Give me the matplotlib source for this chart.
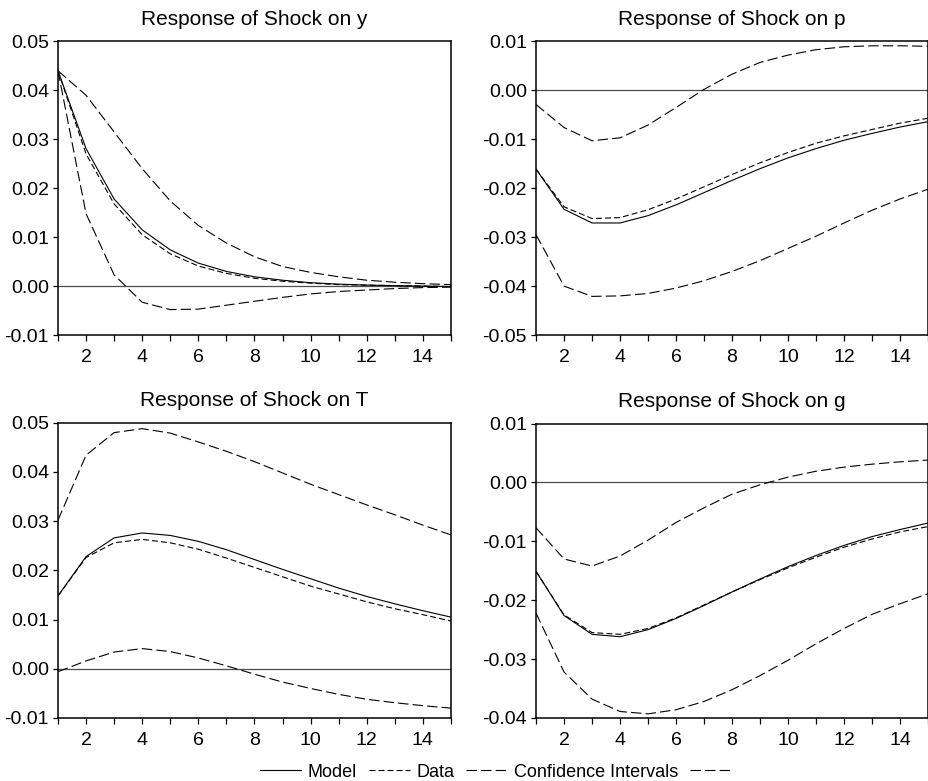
import matplotlib
matplotlib.use("Agg")
import matplotlib.pyplot as plt
from matplotlib.lines import Line2D

plt.rcParams['font.family'] = ['Liberation Sans', 'DejaVu Sans']
plt.rcParams['lines.scale_dashes'] = False

periods = list(range(1, 16))

# Response of Shock on y
y_model = [0.0440, 0.0281, 0.0178, 0.0115, 0.0074, 0.0047, 0.0030, 0.0019, 0.0012,
           0.0007, 0.0004, 0.0002, 0.0001, 0.0000, -0.0001]
y_data = [0.0440, 0.0270, 0.0168, 0.0105, 0.0066, 0.0041, 0.0026, 0.0016, 0.0010,
          0.0006, 0.0003, 0.0002, 0.0001, 0.0000, -0.0001]
y_upper = [0.0440, 0.0390, 0.0315, 0.0240, 0.0174, 0.0124, 0.0088, 0.0060, 0.0040,
           0.0028, 0.0019, 0.0012, 0.0008, 0.0005, 0.0003]
y_lower = [0.0440, 0.0148, 0.0023, -0.0033, -0.0048, -0.0047, -0.0039, -0.0031, -0.0023,
           -0.0016, -0.0011, -0.0008, -0.0005, -0.0003, -0.0002]

# Response of Shock on p
p_model = [-0.0161, -0.0243, -0.0271, -0.0271, -0.0256, -0.0234, -0.0209, -0.0184, -0.0160,
           -0.0138, -0.0119, -0.0102, -0.0088, -0.0075, -0.0064]
p_data = [-0.0161, -0.0238, -0.0262, -0.0260, -0.0244, -0.0222, -0.0197, -0.0172, -0.0148,
          -0.0127, -0.0108, -0.0093, -0.0080, -0.0067, -0.0057]
p_upper = [-0.0029, -0.0076, -0.0103, -0.0097, -0.0071, -0.0035, 0.0002, 0.0033, 0.0057,
           0.0072, 0.0083, 0.0089, 0.0091, 0.0091, 0.0090]
p_lower = [-0.0295, -0.0400, -0.0421, -0.0420, -0.0415, -0.0404, -0.0389, -0.0370, -0.0348,
           -0.0323, -0.0298, -0.0271, -0.0245, -0.0222, -0.0202]

# Response of Shock on T
t_model = [0.0148, 0.0228, 0.0266, 0.0276, 0.0271, 0.0259, 0.0242, 0.0222, 0.0202,
           0.0183, 0.0164, 0.0147, 0.0132, 0.0118, 0.0105]
t_data = [0.0148, 0.0226, 0.0256, 0.0263, 0.0256, 0.0243, 0.0225, 0.0206, 0.0187,
          0.0168, 0.0152, 0.0136, 0.0122, 0.0110, 0.0097]
t_upper = [0.0302, 0.0434, 0.0480, 0.0488, 0.0479, 0.0461, 0.0442, 0.0421, 0.0398,
           0.0375, 0.0354, 0.0333, 0.0313, 0.0292, 0.0272]
t_lower = [-0.0006, 0.0016, 0.0034, 0.0041, 0.0035, 0.0022, 0.0006, -0.0011, -0.0027,
           -0.0040, -0.0052, -0.0062, -0.0069, -0.0075, -0.0080]

# Response of Shock on g
g_model = [-0.0151, -0.0226, -0.0258, -0.0262, -0.0250, -0.0231, -0.0209, -0.0186, -0.0164,
           -0.0143, -0.0124, -0.0107, -0.0092, -0.0080, -0.0069]
g_data = [-0.0151, -0.0225, -0.0255, -0.0258, -0.0248, -0.0230, -0.0208, -0.0186, -0.0165,
          -0.0145, -0.0127, -0.0110, -0.0096, -0.0084, -0.0075]
g_upper = [-0.0077, -0.0130, -0.0142, -0.0125, -0.0098, -0.0068, -0.0043, -0.0020, -0.0004,
           0.0009, 0.0019, 0.0026, 0.0031, 0.0035, 0.0038]
g_lower = [-0.0222, -0.0322, -0.0368, -0.0389, -0.0393, -0.0386, -0.0372, -0.0352, -0.0328,
           -0.0302, -0.0274, -0.0248, -0.0224, -0.0206, -0.0189]

panels = [
    ("Response of Shock on y", y_model, y_data, y_upper, y_lower, (-0.01, 0.05)),
    ("Response of Shock on p", p_model, p_data, p_upper, p_lower, (-0.05, 0.01)),
    ("Response of Shock on T", t_model, t_data, t_upper, t_lower, (-0.01, 0.05)),
    ("Response of Shock on g", g_model, g_data, g_upper, g_lower, (-0.04, 0.01)),
]

# axes boxes in figure fractions (left, bottom, width, height)
boxes = [
    (0.0624, 0.571, 0.423, 0.376),
    (0.577, 0.571, 0.422, 0.376),
    (0.0624, 0.0807, 0.423, 0.378),
    (0.577, 0.0807, 0.422, 0.377),
]

data_ls = (0, (4.3, 2.2))
ci_ls = (0, (7.5, 3.0))
lw = 0.8

fig = plt.figure(figsize=(9.29, 7.81), dpi=100)

for (title, model, data, upper, lower, ylim), box in zip(panels, boxes):
    ax = fig.add_axes(box)
    ax.axhline(0, color='0.3', lw=0.9, zorder=1)
    ax.plot(periods, upper, color='black', lw=lw, ls=ci_ls)
    ax.plot(periods, lower, color='black', lw=lw, ls=ci_ls)
    ax.plot(periods, data, color='black', lw=lw, ls=data_ls)
    ax.plot(periods, model, color='black', lw=lw, ls='-')
    ax.set_xlim(1, 15)
    ax.set_ylim(*ylim)
    ax.set_xticks(periods)
    ax.set_xticklabels([str(p) if p % 2 == 0 else '' for p in periods])
    step = 0.01
    n = int(round((ylim[1] - ylim[0]) / step))
    yt = [round(ylim[0] + i * step, 2) for i in range(n + 1)]
    ax.set_yticks(yt)
    ax.set_yticklabels(['%.2f' % v if abs(v) > 1e-9 else '0.00' for v in yt])
    ax.tick_params(axis='x', direction='out', length=4, width=0.9, pad=6, labelsize=14)
    ax.tick_params(axis='y', direction='out', length=3.5, width=0.9, pad=3, labelsize=14)
    for s in ax.spines.values():
        s.set_linewidth(1.1)
    ax.set_title(title, fontsize=15, pad=12)

handles = [
    Line2D([], [], color='black', lw=lw, ls='-'),
    Line2D([], [], color='black', lw=lw, ls=data_ls),
    Line2D([], [], color='black', lw=lw, ls=ci_ls),
    Line2D([], [], color='black', lw=lw, ls=ci_ls),
]
labels = ["Model", "Data", "Confidence Intervals", ""]
fig.legend(handles, labels, loc='center', bbox_to_anchor=(0.537, 0.0115), ncol=4,
           frameon=False, fontsize=13, handlelength=2.3, handletextpad=0.35,
           columnspacing=0.65, borderpad=0.1)

fig.savefig("out.png", dpi=100)
